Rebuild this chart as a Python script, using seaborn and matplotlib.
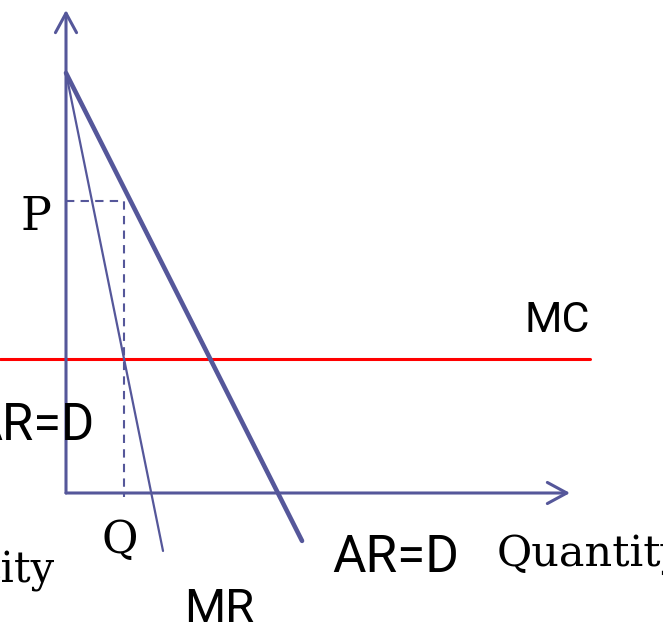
import matplotlib
matplotlib.use("Agg")
import matplotlib.pyplot as plt
from matplotlib import font_manager
import seaborn as sns
import pandas as pd

# Monopoly equilibrium: linear demand (AR=D), steeper MR, constant MC
demand_q = [0.0, 5.62]
demand_p = [10.0, -1.14]
mr_q = [0.0, 2.31]
mr_p = [10.0, -1.38]
mc_level = 3.19
mc_q = [-1.57, 12.48]
q_star = 1.38
p_star = 6.95
y_axis_top = 11.5
x_axis_end = 12.0

AXIS_BLUE = "#55579a"
MC_RED = "#ff0000"

sns.set_theme(style="white")
plt.rcParams["font.family"] = ["DejaVu Sans"]

# Curve labels use a narrow sans face; Roboto stands in when none is installed
narrow_files = [f.fname for f in font_manager.fontManager.ttflist
                if "LiberationSansNarrow-Regular" in f.fname]
if narrow_files:
    def narrow(size):
        return font_manager.FontProperties(fname=narrow_files[0], size=size)
    label_sizes = {"MC": 31.5, "AR_left": 36.5, "AR_right": 37, "MR": 34.5}
else:
    def narrow(size):
        return font_manager.FontProperties(family=["Roboto", "DejaVu Sans"], size=size)
    label_sizes = {"MC": 31, "AR_left": 36.5, "AR_right": 37, "MR": 34}

fig = plt.figure(figsize=(6.63, 6.30), dpi=100)
ax = fig.add_axes([0, 0, 1, 1])
ax.set_xlim(-66 / 42, (663 - 66) / 42)
ax.set_ylim((493 - 630) / 42, 493 / 42)
ax.axis("off")

# Axes with open arrowheads
arrow_kw = dict(arrowstyle="->,head_length=0.7,head_width=0.38", lw=2.2,
                color=AXIS_BLUE, mutation_scale=20, shrinkA=0, shrinkB=0)
ax.annotate("", xy=(0, y_axis_top), xytext=(0, 0), arrowprops=arrow_kw)
ax.annotate("", xy=(x_axis_end, 0), xytext=(0, 0), arrowprops=arrow_kw)

# MC
mc_df = pd.DataFrame({"q": mc_q, "p": [mc_level, mc_level]})
sns.lineplot(data=mc_df, x="q", y="p", ax=ax, color=MC_RED, linewidth=2.2,
             estimator=None, sort=False)

# Demand (AR=D) and MR
d_df = pd.DataFrame({"q": demand_q, "p": demand_p})
sns.lineplot(data=d_df, x="q", y="p", ax=ax, color=AXIS_BLUE, linewidth=3.3,
             estimator=None, sort=False)
mr_df = pd.DataFrame({"q": mr_q, "p": mr_p})
sns.lineplot(data=mr_df, x="q", y="p", ax=ax, color=AXIS_BLUE, linewidth=1.6,
             estimator=None, sort=False)

# Dashed guides to P and Q
guide_df = pd.DataFrame({"q": [0, q_star, q_star], "p": [p_star, p_star, -0.1]})
sns.lineplot(data=guide_df, x="q", y="p", ax=ax, color=AXIS_BLUE, linewidth=1.5,
             linestyle=(0, (4, 3)), estimator=None, sort=False)


def px(x, y):
    return (x - 66) / 42, (493 - y) / 42


serif = ["DejaVu Serif"]

ax.text(*px(36, 230), "P", family=serif, fontsize=33, ha="center", va="baseline", color="black")
ax.text(*px(120, 553), "Q", family=serif, fontsize=32, ha="center", va="baseline", color="black")
ax.text(*px(497, 567), "Quantity", family=serif, fontsize=31, ha="left", va="baseline", color="black")
ax.text(*px(55, 583), "Quantity", family=serif, fontsize=30, ha="right", va="baseline", color="black")

ax.text(*px(524, 332), "MC", fontproperties=narrow(label_sizes["MC"]), ha="left", va="baseline", color="black")
ax.text(*px(95, 440), "AR=D", fontproperties=narrow(label_sizes["AR_left"]), ha="right", va="baseline", color="black")
ax.text(*px(332, 572), "AR=D", fontproperties=narrow(label_sizes["AR_right"]), ha="left", va="baseline", color="black")
ax.text(*px(184, 622), "MR", fontproperties=narrow(label_sizes["MR"]), ha="left", va="baseline", color="black")

fig.savefig("out.png", dpi=100, facecolor="white")
